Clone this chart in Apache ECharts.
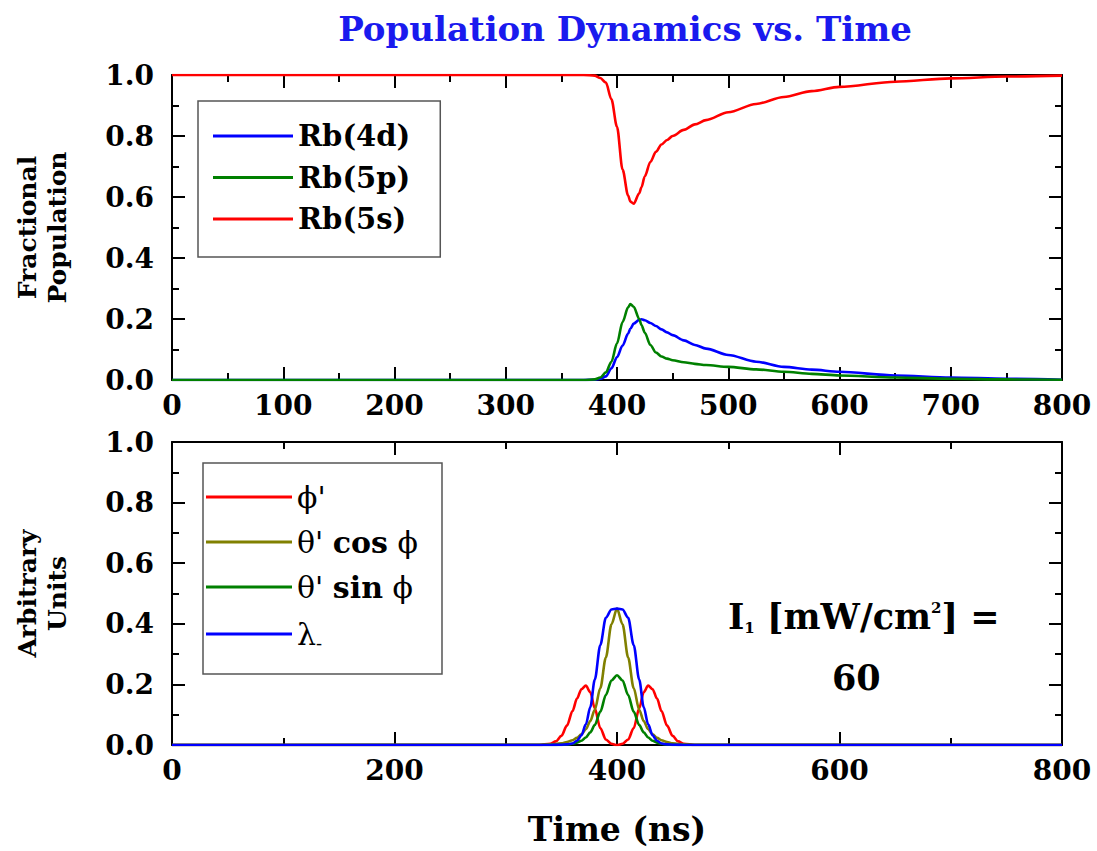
<!DOCTYPE html>
<html>
<head>
<meta charset="utf-8">
<script src="https://cdn.jsdelivr.net/npm/echarts@6/dist/echarts.min.js"></script>
<style>
  html, body { margin: 0; padding: 0; background: #fff; }
  #main { width: 1097px; height: 851px; }
</style>
</head>
<body>
<div id="main"></div>
<script>
// top panel : fractional population
var topTime = [0, 370, 380, 385, 390, 395, 400, 405, 410, 412, 415, 420, 422, 425, 430, 435, 440, 445, 450, 460, 470, 480, 500, 525, 550, 575, 600, 650, 700, 750, 800];
var rb4d = [0, 0, 0.001, 0.004, 0.012, 0.038, 0.075, 0.113, 0.152, 0.168, 0.185, 0.197, 0.199, 0.196, 0.187, 0.177, 0.166, 0.156, 0.147, 0.13, 0.115, 0.103, 0.082, 0.06, 0.043, 0.034, 0.027, 0.015, 0.008, 0.004, 0.001];
var rb5p = [0, 0, 0.002, 0.008, 0.025, 0.06, 0.12, 0.19, 0.238, 0.249, 0.24, 0.2, 0.18, 0.155, 0.115, 0.09, 0.077, 0.07, 0.065, 0.058, 0.053, 0.049, 0.043, 0.035, 0.027, 0.02, 0.015, 0.008, 0.004, 0.002, 0.001];
var rb5s = [1.0, 1.0, 0.998, 0.99, 0.975, 0.92, 0.83, 0.69, 0.605, 0.585, 0.578, 0.612, 0.632, 0.668, 0.715, 0.748, 0.772, 0.787, 0.80, 0.82, 0.838, 0.852, 0.878, 0.905, 0.928, 0.947, 0.961, 0.978, 0.989, 0.995, 0.998];

// bottom panel : arbitrary units
var botTime = [0, 330, 340, 345, 350, 355, 360, 364, 368, 372, 376, 380, 385, 390, 395, 400, 405, 410, 415, 420, 424, 428, 432, 436, 440, 445, 450, 455, 460, 470, 800];
var phiPrime = [0, 0.0001, 0.004, 0.012, 0.030, 0.064, 0.112, 0.153, 0.184, 0.196, 0.174, 0.121, 0.056, 0.018, 0.004, 0, 0.004, 0.018, 0.056, 0.121, 0.174, 0.196, 0.184, 0.153, 0.112, 0.064, 0.030, 0.012, 0.004, 0.0001, 0];
var thetaCos = [0, 0.0007, 0.002, 0.0035, 0.0057, 0.0094, 0.0157, 0.0234, 0.035, 0.052, 0.079, 0.116, 0.188, 0.289, 0.398, 0.45, 0.398, 0.289, 0.188, 0.116, 0.079, 0.052, 0.035, 0.0234, 0.0157, 0.0094, 0.0057, 0.0035, 0.002, 0.0007, 0];
var thetaSin = [0, 0, 0.0001, 0.0002, 0.0005, 0.0015, 0.004, 0.008, 0.014, 0.025, 0.042, 0.066, 0.11, 0.165, 0.213, 0.23, 0.213, 0.165, 0.11, 0.066, 0.042, 0.025, 0.014, 0.008, 0.004, 0.0015, 0.0005, 0.0002, 0.0001, 0, 0];
var lambdaMinus = [0, 0, 0.0002, 0.0005, 0.001, 0.002, 0.005, 0.014, 0.032, 0.068, 0.125, 0.215, 0.33, 0.42, 0.447, 0.45, 0.447, 0.42, 0.33, 0.215, 0.125, 0.068, 0.032, 0.014, 0.005, 0.002, 0.001, 0.0005, 0.0002, 0, 0];

var topNames = ['Rb(4d)', 'Rb(5p)', 'Rb(5s)'];
var botNames = ["ϕ'", "θ' cos ϕ", "θ' sin ϕ", 'λ-'];

var FONT = 'DejaVu Serif';

function pairs(xs, ys) {
	var out = [];
	for (var i = 0; i < xs.length; i++) {
		out.push([xs[i], ys[i]]);
	}
	return out;
}

function xAxisFor(grid, interval, pos, labels) {
	return {
		type: 'value', gridIndex: grid, position: pos,
		min: 0, max: 800, interval: interval,
		axisLine: { show: true, onZero: false, lineStyle: { color: '#000', width: 2 } },
		axisTick: { show: true, inside: true, length: 13, lineStyle: { color: '#000', width: 2 } },
		minorTick: { show: true, splitNumber: 2, length: 7, lineStyle: { color: '#000', width: 2 } },
		splitLine: { show: false },
		axisLabel: { show: labels, margin: 11, color: '#000', fontFamily: FONT, fontWeight: 'bold', fontSize: 28 }
	};
}

function yAxisFor(grid, pos, labels, name) {
	return {
		type: 'value', gridIndex: grid, position: pos,
		min: 0, max: 1, interval: 0.2,
		name: name, nameLocation: 'middle', nameRotate: 90, nameGap: 100,
		nameTextStyle: { color: '#000', fontFamily: FONT, fontWeight: 'bold', fontSize: 25, lineHeight: 30 },
		axisLine: { show: true, onZero: false, lineStyle: { color: '#000', width: 2 } },
		axisTick: { show: true, inside: true, length: 13, lineStyle: { color: '#000', width: 2 } },
		minorTick: { show: true, splitNumber: 2, length: 7, lineStyle: { color: '#000', width: 2 } },
		splitLine: { show: false },
		axisLabel: {
			show: labels, margin: 18, color: '#000', fontFamily: FONT, fontWeight: 'bold', fontSize: 28,
			formatter: function (v) { return v.toFixed(1); }
		}
	};
}

function lineSerie(name, color, xi, yi, data) {
	return {
		name: name, type: 'line', xAxisIndex: xi, yAxisIndex: yi,
		data: data, showSymbol: false, smooth: 0.3, smoothMonotone: 'x',
		lineStyle: { color: color, width: 2.6 }, itemStyle: { color: color },
		z: 3
	};
}

var myChart = echarts.init(document.getElementById('main'), null, { renderer: 'svg' });

var xAxes = [
	xAxisFor(0, 100, 'bottom', true),
	xAxisFor(0, 100, 'top', false),
	xAxisFor(1, 200, 'bottom', true),
	xAxisFor(1, 200, 'top', false)
];
xAxes[2].name = 'Time (ns)';
xAxes[2].nameLocation = 'middle';
xAxes[2].nameGap = 68;
xAxes[2].nameTextStyle = { color: '#000', fontFamily: FONT, fontWeight: 'bold', fontSize: 33 };

var yAxes = [
	yAxisFor(0, 'left', true, 'Fractional\nPopulation'),
	yAxisFor(0, 'right', false, ''),
	yAxisFor(1, 'left', true, 'Arbitrary\nUnits'),
	yAxisFor(1, 'right', false, '')
];

var botRich = {
	g: { fontFamily: FONT, fontWeight: 'normal', fontSize: 30, lineHeight: 32, color: '#000' },
	b: { fontFamily: FONT, fontWeight: 'bold', fontSize: 30, lineHeight: 32, color: '#000' },
	sub: { fontFamily: FONT, fontWeight: 'normal', fontSize: 18, lineHeight: 32, color: '#000', padding: [18, 0, 0, 0] }
};
var botLabels = {};
botLabels["ϕ'"] = "{g|ϕ'}";
botLabels["θ' cos ϕ"] = "{g|θ'} {b|cos} {g|ϕ}";
botLabels["θ' sin ϕ"] = "{g|θ'} {b|sin} {g|ϕ}";
botLabels['λ-'] = '{g|λ}{sub|-}';

var option = {
	backgroundColor: '#fff',
	animation: false,
	title: {
		text: 'Population Dynamics vs. Time',
		left: 620, top: 7, textAlign: 'center',
		textStyle: { color: '#1a1aee', fontFamily: FONT, fontWeight: 'bold', fontSize: 34 }
	},
	grid: [
		{ left: 172, right: 35, top: 75, height: 305 },
		{ left: 172, right: 35, top: 442, height: 303 }
	],
	xAxis: xAxes,
	yAxis: yAxes,
	legend: [
		{
			data: topNames, orient: 'vertical', left: 198, top: 101,
			padding: [19, 30, 22, 15], itemGap: 9.5,
			borderColor: '#555', borderWidth: 1.5, borderRadius: 0,
			icon: 'rect', itemWidth: 80, itemHeight: 3,
			textStyle: { color: '#000', fontFamily: FONT, fontWeight: 'bold', fontSize: 29, lineHeight: 32 }
		},
		{
			data: botNames, orient: 'vertical', left: 203, top: 463,
			padding: [18, 24, 22, 3], itemGap: 13,
			borderColor: '#555', borderWidth: 1.5, borderRadius: 0,
			icon: 'rect', itemWidth: 86, itemHeight: 3,
			formatter: function (name) { return botLabels[name]; },
			textStyle: { color: '#000', fontFamily: FONT, fontSize: 30, lineHeight: 32, rich: botRich }
		}
	],
	graphic: [
		{
			type: 'text', left: 728, top: 599,
			style: {
				text: '{a|I}{s|1}{a| [mW/cm}{p|2}{a|] =}',
				rich: {
					a: { fontFamily: FONT, fontWeight: 'bold', fontSize: 35, fill: '#000' },
					s: { fontFamily: FONT, fontWeight: 'bold', fontSize: 15, fill: '#000', padding: [22, 0, 0, 0] },
					p: { fontFamily: FONT, fontWeight: 'bold', fontSize: 15, fill: '#000', padding: [0, 0, 18, 0] }
				}
			}
		},
		{
			type: 'text', left: 832, top: 660,
			style: { text: '60', fontFamily: FONT, fontWeight: 'bold', fontSize: 35, fill: '#000' }
		}
	],
	series: [
		lineSerie('Rb(4d)', '#0000ff', 0, 0, pairs(topTime, rb4d)),
		lineSerie('Rb(5p)', '#008000', 0, 0, pairs(topTime, rb5p)),
		lineSerie('Rb(5s)', '#ff0000', 0, 0, pairs(topTime, rb5s)),
		lineSerie("ϕ'", '#ff0000', 2, 2, pairs(botTime, phiPrime)),
		lineSerie("θ' cos ϕ", '#808000', 2, 2, pairs(botTime, thetaCos)),
		lineSerie("θ' sin ϕ", '#008000', 2, 2, pairs(botTime, thetaSin)),
		lineSerie('λ-', '#0000ff', 2, 2, pairs(botTime, lambdaMinus))
	]
};

myChart.setOption(option);
</script>
</body>
</html>
